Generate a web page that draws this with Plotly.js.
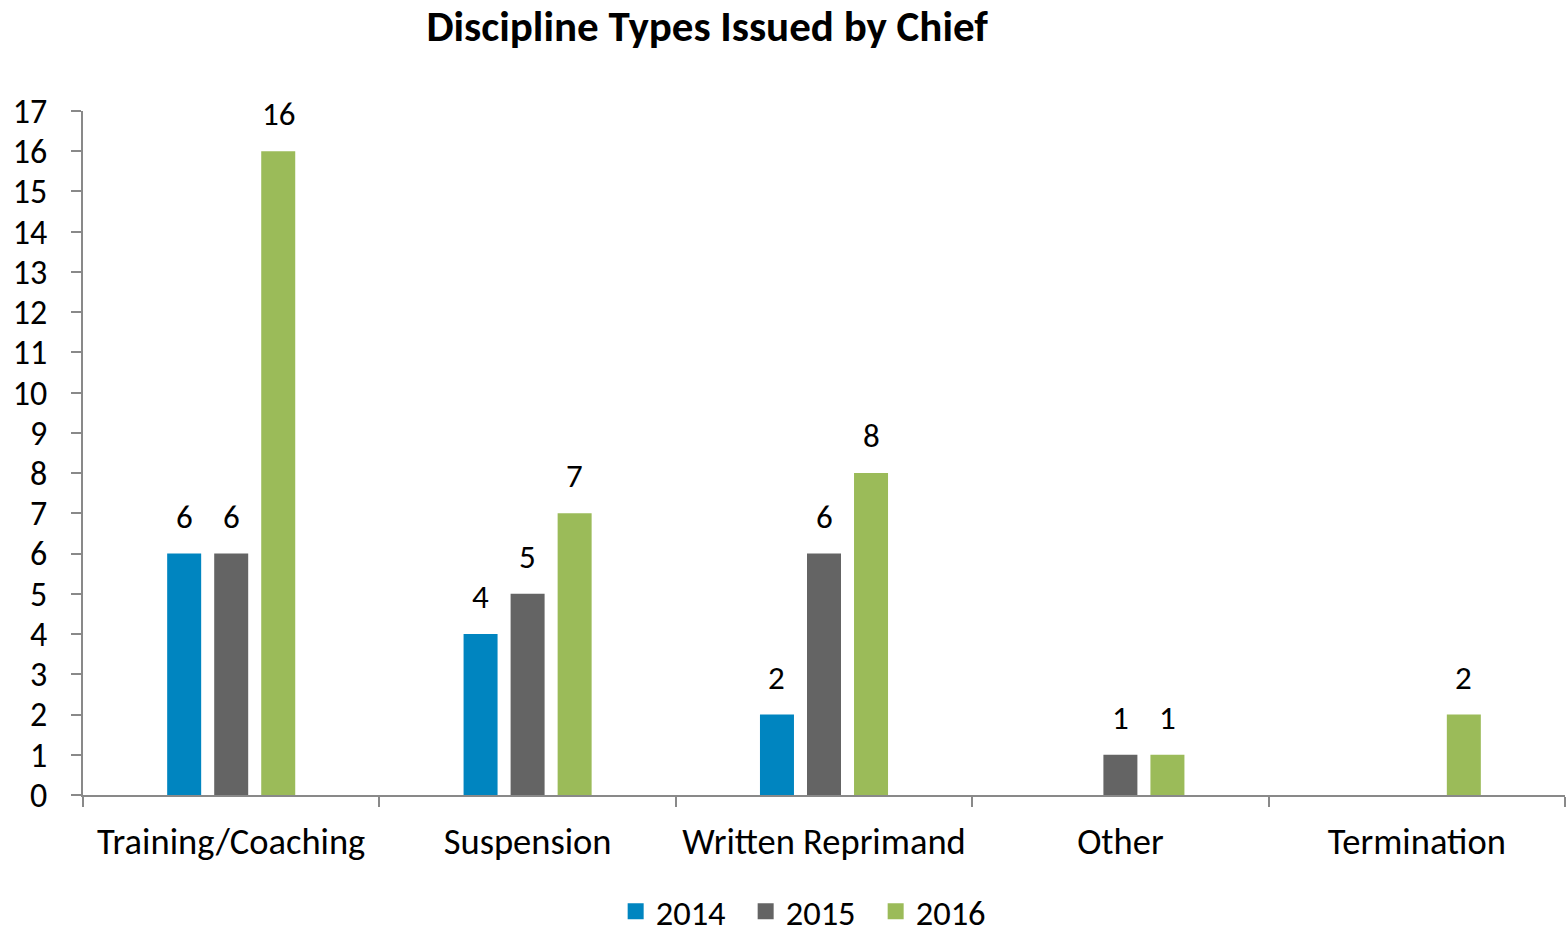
<!DOCTYPE html>
<html>
<head>
<meta charset="utf-8">
<script src="https://cdn.plot.ly/plotly-3.0.1.min.js"></script>
<style>html,body{margin:0;padding:0;background:#fff;}#chart{width:1568px;height:935px;}</style>
</head>
<body>
<div id="chart"></div>
<script>
const categories = ["Training/Coaching", "Suspension", "Written Reprimand", "Other", "Termination"];
const seriesNames = ["2014", "2015", "2016"];
const values2014 = [6, 4, 2, null, null];
const values2015 = [6, 5, 6, 1, null];
const values2016 = [16, 7, 8, 1, 2];
const colors = ["#0085C0", "#646464", "#9BBB59"];
const yTicks = [0,1,2,3,4,5,6,7,8,9,10,11,12,13,14,15,16,17];

const FONT = "Carlito, Calibri, Lato, 'Liberation Sans', sans-serif";
const allValues = [values2014, values2015, values2016];

const W = 1568, H = 935;
const margin = {l: 83, r: 3, t: 111, b: 140, autoexpand: false};
const bargap = 0.524, bargroupgap = 0.277;
// pixel width of one bar slot, derived from the layout so labels follow the bars
const slotPx = (W - margin.l - margin.r) / categories.length * (1 - bargap) / seriesNames.length;

const traces = allValues.map((vals, i) => ({
  type: "bar",
  name: seriesNames[i],
  x: categories,
  y: vals,
  marker: {color: colors[i]},
  showlegend: false,
  hoverinfo: "x+y+name"
}));

// legend entries with larger square swatches
seriesNames.forEach((n, i) => {
  traces.push({
    type: "scatter", mode: "markers", name: n,
    x: [null], y: [null],
    marker: {symbol: "square", size: 18, color: colors[i]},
    showlegend: true
  });
});

const annotations = [];
allValues.forEach((vals, i) => {
  vals.forEach((v, j) => {
    if (v === null) return;
    annotations.push({
      x: categories[j], y: v, xref: "x", yref: "y",
      text: String(v), showarrow: false,
      xanchor: "center", yanchor: "middle",
      xshift: (i - 1) * slotPx, yshift: 37,
      font: {family: FONT, size: 33, color: "#000"}
    });
  });
});

const layout = {
  width: W,
  height: H,
  paper_bgcolor: "#fff",
  plot_bgcolor: "#fff",
  margin: margin,
  barmode: "group",
  bargap: bargap,
  bargroupgap: bargroupgap,
  font: {family: FONT, color: "#000"},
  title: {
    text: "<b>Discipline Types Issued by Chief</b>",
    font: {family: FONT, size: 43, color: "#000"},
    xref: "container", x: 0.451, xanchor: "center",
    yref: "container", y: 0.972, yanchor: "middle"
  },
  xaxis: {
    type: "category",
    showline: true, linecolor: "#898989", linewidth: 2,
    ticks: "outside", tickson: "boundaries", ticklen: 10, tickcolor: "#898989", tickwidth: 2,
    tickfont: {family: FONT, size: 36.5, color: "#000"},
    ticklabelstandoff: 13,
    showgrid: false, zeroline: false
  },
  yaxis: {
    range: [0, 17],
    tickvals: yTicks,
    showline: true, linecolor: "#898989", linewidth: 2,
    ticks: "outside", ticklen: 10, tickcolor: "#898989", tickwidth: 2,
    tickfont: {family: FONT, size: 34, color: "#000"},
    ticklabelstandoff: 17,
    showgrid: false, zeroline: false
  },
  legend: {
    orientation: "h",
    x: 0.491, xanchor: "center",
    yref: "paper", y: -0.17, yanchor: "middle",
    font: {family: FONT, size: 34.5, color: "#000"},
    itemwidth: 30,
    entrywidth: 85, entrywidthmode: "pixels",
    tracegroupgap: 0
  },
  annotations: annotations,
  showlegend: true
};

Plotly.newPlot("chart", traces, layout, {displayModeBar: false, staticPlot: true});
</script>
</body>
</html>
